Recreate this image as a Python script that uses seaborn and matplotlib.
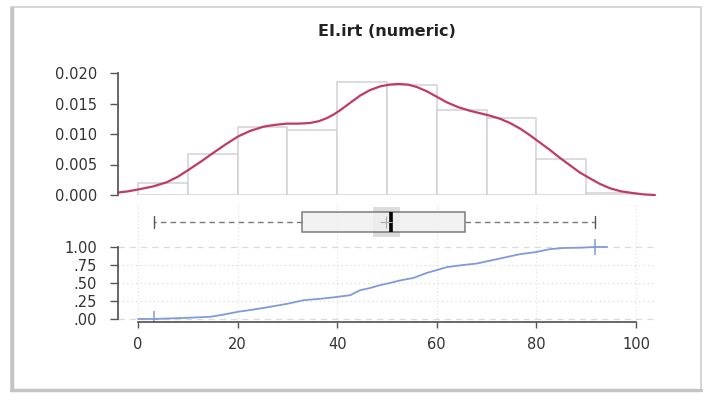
import numpy as np
import pandas as pd
import seaborn as sns
from matplotlib import pyplot as plt
from matplotlib.patches import Rectangle
from matplotlib.lines import Line2D

# histogram (density per 10-wide bin)
bin_edges = [0, 10, 20, 30, 40, 50, 60, 70, 80, 90, 100]
bin_density = [0.0019, 0.0067, 0.0111, 0.0107, 0.0185, 0.0180, 0.0140, 0.0126, 0.0059, 0.0004]

# density curve
kde_x = [-4.0, -2.0, 0.0, 3.0, 5.8, 8.0, 10.1, 12.5, 15.1, 17.6, 20.1, 22.5, 25.2, 27.5,
         29.9, 32.2, 34.5, 36.3, 37.9, 39.3, 40.6, 42.6, 44.6, 46.6, 48.6, 50.5, 52.3,
         54.2, 56.0, 58.0, 60.0, 62.0, 64.3, 66.7, 68.7, 70.7, 72.7, 74.7, 76.7, 78.7,
         80.7, 82.7, 84.7, 86.7, 88.7, 90.8, 92.8, 94.8, 97.0, 99.5, 101.5, 103.8]
kde_y = [0.0004, 0.0006, 0.0009, 0.0014, 0.0021, 0.0030, 0.0041, 0.0054, 0.0069, 0.0083,
         0.0096, 0.0105, 0.0112, 0.0115, 0.0117, 0.0117, 0.0118, 0.0121, 0.0126, 0.0132,
         0.0139, 0.0151, 0.0163, 0.0172, 0.0178, 0.0181, 0.0182, 0.0181, 0.0177, 0.0170,
         0.0161, 0.0152, 0.0144, 0.0138, 0.0134, 0.0130, 0.0125, 0.0118, 0.0109, 0.0098,
         0.0086, 0.0074, 0.0061, 0.0049, 0.0037, 0.0027, 0.0018, 0.0011, 0.0006, 0.0003,
         0.0001, 0.0000]

# boxplot summary
box_min, box_q1, box_med, box_q3, box_max = 3.2, 32.9, 50.8, 65.7, 91.8
box_mean = 49.8
ci_lo, ci_hi = 47.2, 52.6

# empirical cdf
ecdf_x = [0, 3.3, 9.1, 14.5, 17.1, 20.1, 23.1, 25.8, 29.9, 33.2, 36.5, 39.2, 42.6, 44.6,
          46.6, 48.6, 50.6, 52.6, 55.3, 58.0, 60.3, 62.0, 65.3, 68.0, 70.7, 74.0, 76.7,
          80.0, 82.7, 85.4, 88.8, 91.8, 94.2]
ecdf_y = [0, 0, 0.014, 0.03, 0.06, 0.10, 0.13, 0.16, 0.21, 0.26, 0.28, 0.30, 0.33, 0.40,
          0.43, 0.47, 0.50, 0.535, 0.57, 0.64, 0.685, 0.72, 0.75, 0.77, 0.81, 0.86, 0.90,
          0.93, 0.97, 0.986, 0.99, 1.0, 1.0]

x_ticks = [0, 20, 40, 60, 80, 100]
dens_ticks = [0.000, 0.005, 0.010, 0.015, 0.020]
cdf_ticks = [0, 0.25, 0.5, 0.75, 1.0]
cdf_labels = ['.00', '.25', '.50', '.75', '1.00']

sns.set_theme(style="white")
plt.rcParams['font.family'] = ['DejaVu Sans']
plt.rcParams['axes.edgecolor'] = '#555555'
plt.rcParams['xtick.color'] = '#555555'
plt.rcParams['ytick.color'] = '#555555'

W, H = 707, 394
fig = plt.figure(figsize=(7.07, 3.94), dpi=100)
xlim = (-4.02, 104.02)

# outer frame
fig.add_artist(Rectangle((11 / W, 1 - 390 / H), 690 / W, 383 / H, transform=fig.transFigure,
                         fill=False, edgecolor='#d0d0d0', lw=1.2))
fig.add_artist(Line2D([11.5 / W, 11.5 / W], [1 - 390 / H, 1 - 8 / H], transform=fig.transFigure,
                      color='#c4c4c4', lw=2.5))
fig.add_artist(Line2D([11 / W, 701 / W], [1 - 389.5 / H, 1 - 389.5 / H], transform=fig.transFigure,
                      color='#c4c4c4', lw=2.5))

# top: histogram + density
ax1 = fig.add_axes([118 / W, 1 - 195 / H, 538 / W, 122 / H])
centers = [(a + b) / 2 for a, b in zip(bin_edges[:-1], bin_edges[1:])]
sns.histplot(x=centers, weights=bin_density, bins=bin_edges, ax=ax1,
             color='white', edgecolor='#d2d2d2', linewidth=1.1, alpha=1)
sns.lineplot(x=kde_x, y=kde_y, ax=ax1, color='#c03a68', lw=1.6, clip_on=False)
ax1.set_xlim(*xlim)
ax1.set_ylim(0, 0.02)
ax1.set_yticks(dens_ticks)
ax1.set_yticklabels([f'{t:.3f}' for t in dens_ticks])
ax1.set_xticks([])
ax1.set(xlabel='', ylabel='')
for s in ['top', 'right', 'bottom']:
    ax1.spines[s].set_visible(False)
ax1.spines['left'].set_bounds(0, 0.02)
ax1.tick_params(axis='y', left=True, length=6, width=1, pad=9, labelsize=10.5, labelcolor='#333333')
ax1.patch.set_alpha(0)
ax1.set_title('EI.irt (numeric)', fontsize=11.5, fontweight='bold', color='#222222', pad=27)

# bottom: boxplot + ecdf
ax2 = fig.add_axes([118 / W, 1 - 322 / H, 538 / W, 119 / H])
ax2.set_xlim(*xlim)
ax2.set_ylim(-0.042, 1.611)
for x in x_ticks:
    ax2.axvline(x, color='#e2e2e2', lw=0.9, ls=(0, (1, 2)), zorder=0)
for t in cdf_ticks:
    ls = (0, (5, 4)) if t in (0, 1.0) else (0, (1, 2.5))
    ax2.axhline(t, color='#dadada', lw=0.9, ls=ls, zorder=0)

box_pos = 1.347
ax2.fill_betweenx([box_pos - 0.21, box_pos + 0.21], ci_lo, ci_hi, color='#dcdcdc', lw=0, zorder=1)
stats = [dict(med=box_med, q1=box_q1, q3=box_q3, whislo=box_min, whishi=box_max,
              mean=box_mean, fliers=[])]
ax2.bxp(stats, positions=[box_pos], widths=0.285, vert=False, patch_artist=True,
        showmeans=True, capwidths=0.16, manage_ticks=False,
        boxprops=dict(facecolor='#f0f0f0', edgecolor='#666666', lw=1.1, alpha=0.85),
        medianprops=dict(color='black', lw=2.6),
        whiskerprops=dict(color='#777777', lw=1, ls=(0, (4, 3))),
        capprops=dict(color='#555555', lw=1),
        meanprops=dict(marker='+', markeredgecolor='#aaaaaa', markersize=9, markeredgewidth=0.8),
        zorder=2)

sns.lineplot(x=ecdf_x, y=ecdf_y, ax=ax2, color='#7f9bd8', lw=1.3, zorder=3)
ax2.plot([box_min], [0], marker='|', color='#7f9bd8', markersize=12, mew=1.1)
ax2.plot([box_max], [1], marker='|', color='#7f9bd8', markersize=12, mew=1.1)

ax2.set_xticks(x_ticks)
ax2.set_xticklabels([str(t) for t in x_ticks])
ax2.set_yticks(cdf_ticks)
ax2.set_yticklabels(cdf_labels)
ax2.set(xlabel='', ylabel='')
for s in ['top', 'right']:
    ax2.spines[s].set_visible(False)
ax2.spines['left'].set_bounds(0, 1)
ax2.spines['bottom'].set_bounds(0, 100)
ax2.tick_params(axis='y', left=True, length=6, width=1, pad=9, labelsize=10.5, labelcolor='#333333')
ax2.tick_params(axis='x', bottom=True, length=4, width=1, pad=7, labelsize=10.5, labelcolor='#333333')
ax2.patch.set_alpha(0)

fig.savefig('out.png', dpi=100)
